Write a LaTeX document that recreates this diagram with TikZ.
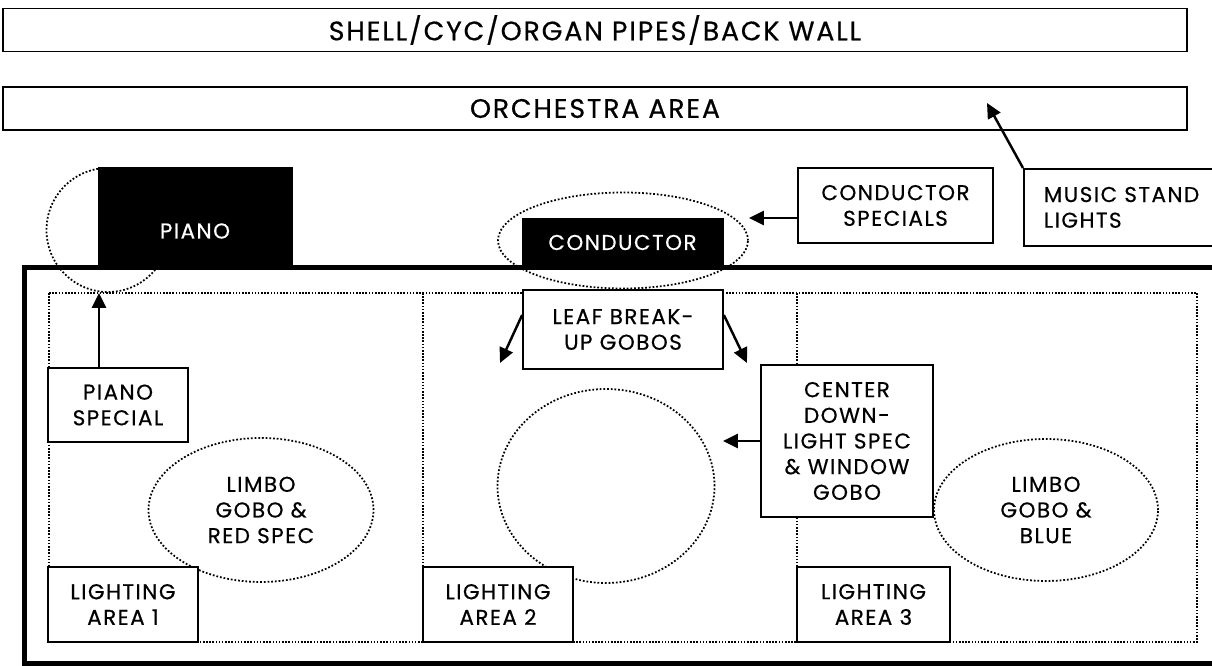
\documentclass[tikz,border=0pt]{standalone}
\usepackage{fontspec}
\setmainfont{Poppins}[LetterSpace=7,FakeBold=0.5]
\usetikzlibrary{arrows.meta, shapes.geometric, positioning, calc}
\tikzset{
  labelbox/.style={
    rectangle, draw=black, line width=1pt, fill=white,
    align=center, inner sep=0pt,
    font=\fontsize{12.2}{14.6}\selectfont
  },
  blackbox/.style={
    rectangle, fill=black, draw=black, text=white, inner sep=0pt,
    font=\fontsize{12.2}{14.6}\selectfont
  },
  bandbox/.style={
    rectangle, draw=black, line width=1.1pt, inner sep=0pt,
    minimum width=23.68cm, minimum height=0.86cm,
    font=\fontsize{15.2}{18}\selectfont
  },
  beamell/.style={
    ellipse, draw=black, line width=1pt, dash pattern=on 1pt off 1.1pt,
    inner sep=0pt, align=center,
    font=\fontsize{12.2}{14.6}\selectfont
  },
  zoneline/.style={line width=0.9pt, dash pattern=on 0.9pt off 0.9pt},
  stageline/.style={line width=2.8pt},
  pointarrow/.style={-{Triangle[length=0.3cm,width=0.28cm]}, line width=1.4pt},
}

\begin{document}
\begin{tikzpicture}
      \useasboundingbox (0,0) rectangle (24.24,-13.32);
      % back of the house
      \node[bandbox](shell)at(11.9,-0.6){SHELL/CYC/ORGAN PIPES/BACK WALL};
      \node[bandbox](orch)at(11.9,-2.17){ORCHESTRA AREA};
      % beams
      \node[beamell,minimum width=2.46cm,minimum height=2.48cm](pianocirc)at(2.16,-4.6){};
      \node[beamell,minimum width=5cm,minimum height=1.92cm](condell)at(12.46,-4.81){};
      \node[beamell,minimum width=4.5cm,minimum height=2.88cm](limbo1)at(5.22,-10.2)
            {LIMBO\\GOBO \&\\RED SPEC};
      \node[beamell,minimum width=4.34cm,minimum height=3.88cm](midcirc)at(12.12,-9.72){};
      \node[beamell,minimum width=4.48cm,minimum height=2.84cm](limbo3)at(20.92,-10.2)
            {LIMBO\\GOBO \&\\BLUE};
      % stage edge and lighting areas
      \draw[stageline](24.4,-5.35)--(0.49,-5.35)--(0.49,-13.27)--(24.4,-13.27);
      \draw[zoneline](0.98,-5.86)rectangle(23.94,-12.84);
      \draw[zoneline](8.46,-5.86)--(8.46,-12.84);
      \draw[zoneline](15.94,-5.86)--(15.94,-12.84);
      % piano and conductor
      \node[blackbox,minimum width=3.88cm,minimum height=2cm,
            label={[yshift=-0.28cm,text=white,font=\fontsize{12.2}{14.6}\selectfont]center:PIANO}]
            (piano)at(3.9,-4.34){};
      \node[blackbox,minimum width=4.02cm,minimum height=0.98cm](cond)at(12.45,-4.85){CONDUCTOR};
      % labels
      \node[labelbox,minimum width=3.9cm,minimum height=1.5cm](cspec)at(17.91,-4.11)
            {CONDUCTOR\\SPECIALS};
      \node[labelbox,anchor=north west,minimum height=1.54cm,text width=3.4cm,
            inner xsep=0.4cm,align=left](mstand)at(20.46,-3.36){MUSIC STAND\\LIGHTS};
      \node[labelbox,minimum width=2.8cm,minimum height=1.48cm](pianospec)at(2.36,-8.1)
            {PIANO\\SPECIAL};
      \node[labelbox,minimum width=4cm,minimum height=1.58cm](leaf)at(12.46,-6.59)
            {LEAF BREAK-\\UP GOBOS};
      \node[labelbox,minimum width=3.44cm,minimum height=3.04cm](cds)at(16.94,-8.82)
            {CENTER\\DOWN-\\LIGHT SPEC\\\& WINDOW\\GOBO};
      \node[labelbox,minimum width=3cm,minimum height=1.5cm](area1)at(2.46,-12.09){LIGHTING\\AREA 1};
      \node[labelbox,minimum width=3cm,minimum height=1.5cm](area2)at(9.96,-12.09){LIGHTING\\AREA 2};
      \node[labelbox,minimum width=3.06cm,minimum height=1.5cm](area3)at(17.47,-12.09){LIGHTING\\AREA 3};
      % arrows
      \coordinate(orchtip)at(19.74,-2.06);
      \coordinate(leafL)at(10.0,-7.26);
      \coordinate(leafR)at(14.94,-7.26);
      \draw[pointarrow](mstand.north west)--(orchtip);
      \draw[pointarrow]([yshift=-0.25cm]cspec.west)--([yshift=-0.25cm]cspec.west-|condell.east);
      \draw[pointarrow]([xshift=-0.38cm]pianospec.north)--([xshift=-0.38cm]pianospec.north|-pianocirc.south);
      \draw[pointarrow]([yshift=0.29cm]leaf.west)--(leafL);
      \draw[pointarrow]([yshift=0.29cm]leaf.east)--(leafR);
      \draw[pointarrow,shorten >=0.15cm](cds.west)--(cds.west-|midcirc.east);
    \end{tikzpicture}
\end{document}
